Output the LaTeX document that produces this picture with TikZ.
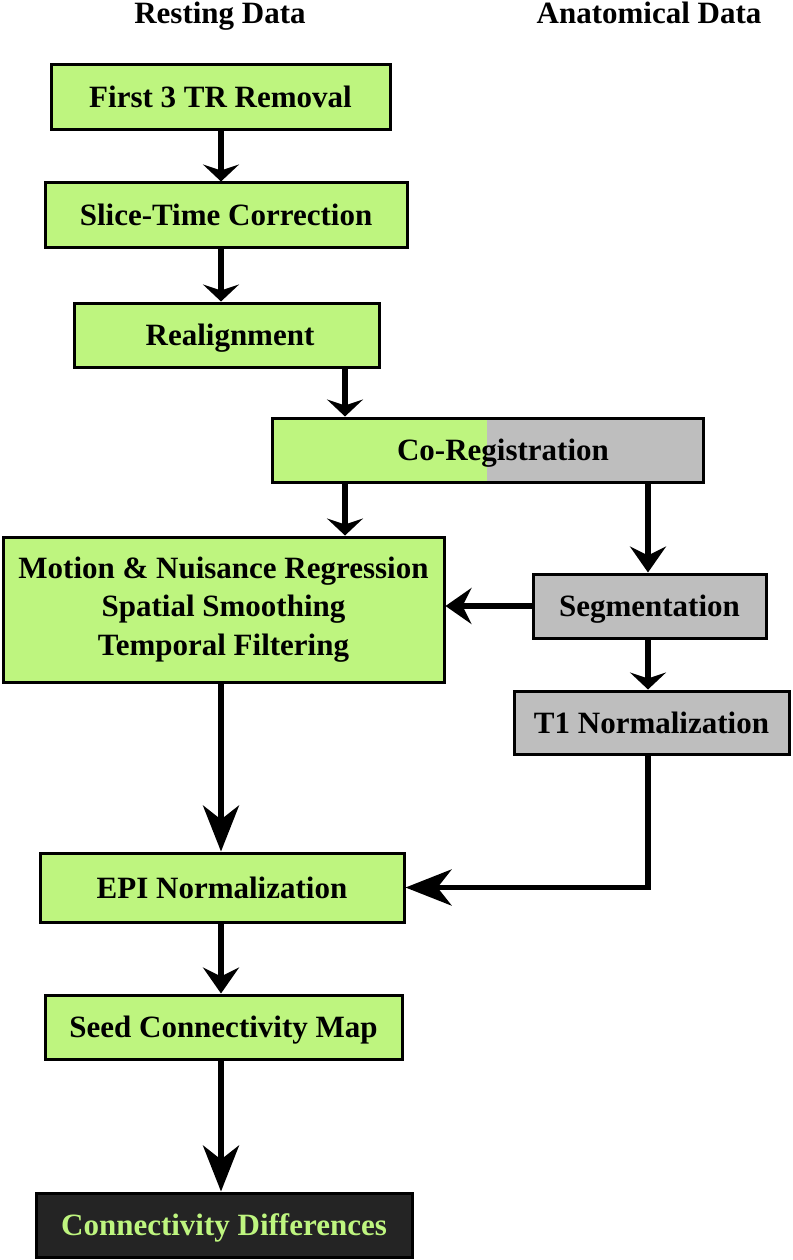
\documentclass[tikz,border=0pt]{standalone}
\usepackage{fontspec}
\setmainfont{Liberation Serif}
\usetikzlibrary{arrows.meta}
\definecolor{cgreen}{RGB}{190,245,127}
\definecolor{cgrey}{RGB}{190,190,190}
\definecolor{cdark}{RGB}{36,36,36}
\tikzset{
  box/.style={draw=black, line width=3pt, inner sep=0pt, text height=21pt, text depth=0pt,
    font=\fontsize{31}{38.5}\selectfont\bfseries},
  gbox/.style={box, fill=cgreen},
  greybox/.style={box, fill=cgrey},
  title/.style={font=\fontsize{31}{38.5}\selectfont\bfseries, anchor=base, inner sep=0pt},
  arrS/.style={line width=5.5pt, -{Stealth[length=17pt,width=36pt,inset=6pt]}},
  arrM/.style={line width=5.5pt, -{Stealth[length=26pt,width=36pt,inset=9pt]}},
  arrL/.style={line width=5.5pt, -{Stealth[length=46pt,width=36pt,inset=14pt]}},
}
\begin{document}
\begin{tikzpicture}[x=1pt,y=-1pt]
\useasboundingbox (0,0) rectangle (792,1260);

\node[title] (tr) at (220,24) {Resting Data};
\node[title] (ta) at (649,24) {Anatomical Data};

\coordinate (colA) at (221,0);
\coordinate (colB) at (345,0);
\coordinate (colC) at (648,0);

\node[gbox, minimum width=339pt, minimum height=65pt] (b1) at (220.5,97.5) {First 3 TR Removal};
\node[gbox, minimum width=362pt, minimum height=64pt] (b2) at (226,215) {Slice-Time Correction};
\node[gbox, minimum width=305pt, minimum height=64pt] (b3) at (226.5,335) {\hspace*{7pt}Realignment};
\node[greybox, minimum width=431pt, minimum height=64pt,
  path picture={\fill[cgreen] (path picture bounding box.south west) rectangle ([xshift=215pt]path picture bounding box.north west);}] (co) at (487.5,450) {\hspace*{31pt}Co-Registration};
\node[gbox, minimum width=441pt, minimum height=145pt, align=center, text height=, text depth=] (b5) at (223.5,609.5)
  {Motion \& Nuisance Regression\\Spatial Smoothing\\Temporal Filtering};
\node[greybox, minimum width=233pt, minimum height=64pt] (seg) at (649.5,606) {Segmentation};
\node[greybox, minimum width=275pt, minimum height=63pt] (t1) at (651.5,722.5) {T1 Normalization};
\node[gbox, minimum width=364pt, minimum height=69pt] (epi) at (222,887.5) {EPI Normalization};
\node[gbox, minimum width=357pt, minimum height=64pt] (seed) at (223.5,1027) {Seed Connectivity Map};
\node[box, fill=cdark, text=cgreen, minimum width=376pt, minimum height=64pt] (conn) at (224,1225) {Connectivity Differences};

\draw[arrS] (b1.south -| colA) -- (b2.north -| colA);
\draw[arrS] (b2.south -| colA) -- (b3.north -| colA);
\draw[arrS] (b3.south -| colB) -- (co.north -| colB);
\draw[arrS] (co.south -| colB) -- (b5.north -| colB);
\draw[arrM] (co.south -| colC) -- (seg.north -| colC);
\draw[arrM] (seg.west) -- (seg.west -| b5.east);
\draw[arrS] (seg.south -| colC) -- (t1.north -| colC);
\draw[arrL] (b5.south -| colA) -- (epi.north -| colA);
\draw[arrL] (t1.south -| colC) |- (epi.east);
\draw[arrM] (epi.south -| colA) -- (seed.north -| colA);
\draw[arrL] (seed.south -| colA) -- (conn.north -| colA);
\end{tikzpicture}
\end{document}
